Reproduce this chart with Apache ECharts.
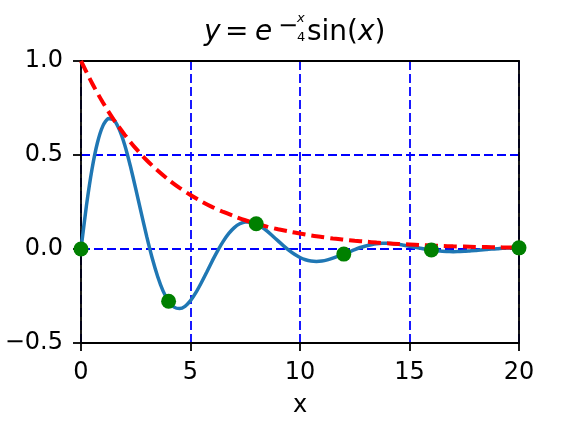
<!DOCTYPE html>
<html>
<head>
<meta charset="utf-8">
<script src="https://cdn.jsdelivr.net/npm/echarts@6/dist/echarts.min.js"></script>
<style>
  html, body { margin: 0; padding: 0; background: #fff; }
  #chart { width: 565px; height: 427px; }
</style>
</head>
<body>
<div id="chart"></div>
<script>
// blue curve x positions (step 0.25)
const curveX = [0, 0.25, 0.5, 0.75, 1, 1.25, 1.5, 1.75, 2, 2.25, 2.5, 2.75, 3, 3.25, 3.5, 3.75,
  4, 4.25, 4.5, 4.75, 5, 5.25, 5.5, 5.75, 6, 6.25, 6.5, 6.75, 7, 7.25, 7.5, 7.75,
  8, 8.25, 8.5, 8.75, 9, 9.25, 9.5, 9.75, 10, 10.25, 10.5, 10.75, 11, 11.25, 11.5, 11.75,
  12, 12.25, 12.5, 12.75, 13, 13.25, 13.5, 13.75, 14, 14.25, 14.5, 14.75, 15, 15.25, 15.5, 15.75,
  16, 16.25, 16.5, 16.75, 17, 17.25, 17.5, 17.75, 18, 18.25, 18.5, 18.75, 19, 19.25, 19.5, 19.75, 20];
// blue curve values
const curveY = [0, 0.232, 0.423, 0.565, 0.655, 0.694, 0.686, 0.635, 0.552, 0.443, 0.320, 0.192,
  0.067, -0.048, -0.146, -0.224, -0.278, -0.309, -0.317, -0.305, -0.275, -0.231, -0.178, -0.121,
  -0.062, -0.007, 0.042, 0.083, 0.114, 0.134, 0.144, 0.143, 0.134, 0.117, 0.095, 0.069,
  0.043, 0.017, -0.007, -0.028, -0.045, -0.057, -0.064, -0.066, -0.064, -0.058, -0.049, -0.038,
  -0.027, -0.015, -0.003, 0.008, 0.016, 0.023, 0.028, 0.030, 0.030, 0.028, 0.025, 0.020,
  0.015, 0.009, 0.004, -0.001, -0.005, -0.009, -0.012, -0.013, -0.014, -0.013, -0.012, -0.010,
  -0.008, -0.005, -0.003, 0, 0.001, 0.004, 0.005, 0.006, 0.006];
// red dashed envelope (step 0.5)
const envX = [0, 0.5, 1, 1.5, 2, 2.5, 3, 3.5, 4, 4.5, 5, 5.5, 6, 6.5, 7, 7.5, 8, 8.5, 9, 9.5, 10,
  10.5, 11, 11.5, 12, 12.5, 13, 13.5, 14, 14.5, 15, 15.5, 16, 16.5, 17, 17.5, 18, 18.5, 19, 19.5, 20];
const envY = [1, 0.883, 0.779, 0.687, 0.607, 0.535, 0.472, 0.417, 0.368, 0.325, 0.287,
  0.253, 0.223, 0.197, 0.174, 0.153, 0.135, 0.119, 0.105, 0.093, 0.082,
  0.072, 0.064, 0.056, 0.050, 0.044, 0.039, 0.034, 0.030, 0.027, 0.024,
  0.021, 0.018, 0.016, 0.014, 0.013, 0.011, 0.010, 0.009, 0.008, 0.007];
// green markers
const dotX = [0, 4, 8, 12, 16, 20];
const dotY = [0, -0.278, 0.134, -0.027, -0.005, 0.006];

const xTicks = { min: 0, max: 20, interval: 5 };
const yTicks = { min: -0.5, max: 1.0, interval: 0.5 };

const pair = (a, b) => a.map((v, i) => [v, b[i]]);

const chart = echarts.init(document.getElementById('chart'));
const font = '"DejaVu Sans", sans-serif';
const tf = 28; // title font size
const spine = { color: '#000', width: 1.8 };
const gridDash = { show: true, lineStyle: { color: '#0000ff', type: [9, 4], width: 1.8 } };

chart.setOption({
  animation: false,
  grid: { left: 81, right: 46, top: 61, bottom: 84 },
  xAxis: [
    {
      type: 'value',
      min: xTicks.min, max: xTicks.max, interval: xTicks.interval,
      name: 'x', nameLocation: 'middle', nameGap: 51,
      nameTextStyle: { fontFamily: font, fontSize: 24, color: '#000' },
      axisLine: { onZero: false, lineStyle: spine },
      axisTick: { show: true, length: 8, lineStyle: spine },
      axisLabel: { fontFamily: font, fontSize: 24, color: '#000', margin: 18 },
      splitLine: gridDash
    },
    {
      // top spine
      type: 'value', position: 'top',
      min: xTicks.min, max: xTicks.max, interval: xTicks.interval,
      axisLine: { show: true, onZero: false, lineStyle: spine },
      axisTick: { show: false }, axisLabel: { show: false }, splitLine: { show: false }
    }
  ],
  yAxis: [
    {
      type: 'value',
      min: yTicks.min, max: yTicks.max, interval: yTicks.interval,
      axisLine: { show: true, onZero: false, lineStyle: spine },
      axisTick: { show: true, length: 8, lineStyle: spine },
      axisLabel: {
        fontFamily: font, fontSize: 24, color: '#000', margin: 18,
        formatter: v => (v < 0 ? '\u2212' : '') + Math.abs(v).toFixed(1)
      },
      splitLine: gridDash
    },
    {
      // right spine
      type: 'value', position: 'right',
      min: yTicks.min, max: yTicks.max, interval: yTicks.interval,
      axisLine: { show: true, onZero: false, lineStyle: spine },
      axisTick: { show: false }, axisLabel: { show: false }, splitLine: { show: false }
    }
  ],
  series: [
    {
      type: 'line', data: pair(curveX, curveY), smooth: 0.2, showSymbol: false,
      lineStyle: { color: '#1f77b4', width: 3.5 }, z: 3
    },
    {
      type: 'line', data: pair(envX, envY), smooth: 0.3, showSymbol: false,
      lineStyle: { color: '#ff0000', width: 4, type: [13, 6] }, z: 4
    },
    {
      type: 'scatter', data: pair(dotX, dotY), symbolSize: 15,
      itemStyle: { color: '#008000', opacity: 1 }, z: 5
    }
  ],
  graphic: [
    { type: 'text', left: 204, top: 19, style: { text: 'y', font: 'italic ' + tf + 'px ' + font, fill: '#000' } },
    { type: 'text', left: 225, top: 19, style: { text: '=', font: tf + 'px ' + font, fill: '#000' } },
    { type: 'text', left: 255, top: 19, style: { text: 'e', font: 'italic ' + tf + 'px ' + font, fill: '#000' } },
    { type: 'text', left: 278, top: 15, style: { text: '\u2212', font: '24px ' + font, fill: '#000' } },
    { type: 'text', left: 297, top: 12, style: { text: 'x', font: 'italic 13px ' + font, fill: '#000' } },
    { type: 'text', left: 297, top: 31, style: { text: '4', font: '13px ' + font, fill: '#000' } },
    {
      type: 'text', left: 307, top: 19,
      style: {
        text: '{r|sin(}{i|x}{r|)}',
        rich: {
          r: { fontFamily: font, fontSize: tf, fill: '#000' },
          i: { fontFamily: font, fontSize: tf, fontStyle: 'italic', fill: '#000' }
        }
      }
    }
  ]
});
</script>
</body>
</html>
